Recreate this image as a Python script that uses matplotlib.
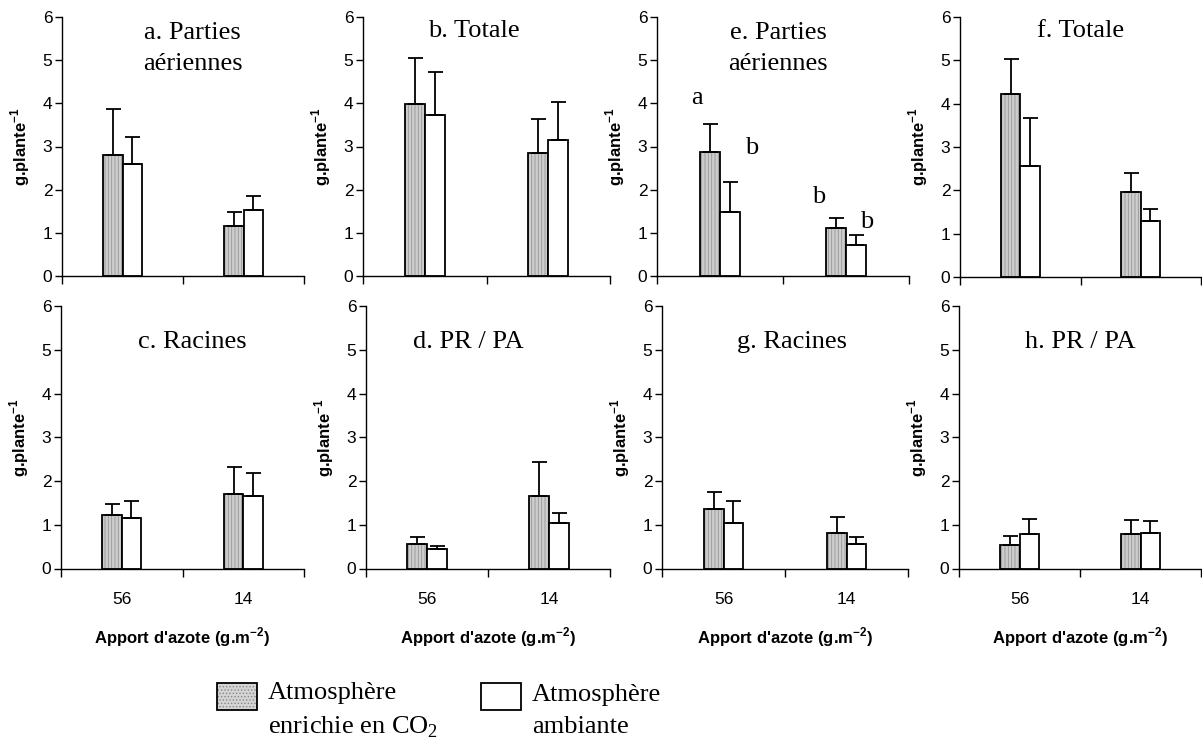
import numpy as np
import matplotlib.pyplot as plt
from matplotlib.patches import Patch, Rectangle
from matplotlib.legend_handler import HandlerPatch

plt.rcParams['font.family'] = ['Liberation Sans', 'DejaVu Sans']
plt.rcParams['mathtext.fontset'] = 'custom'
plt.rcParams['mathtext.rm'] = 'Liberation Serif'
plt.rcParams['mathtext.bf'] = 'Liberation Sans:bold'
plt.rcParams['hatch.linewidth'] = 0.6

# doses d'azote (g.m-2)
doses = ['56', '14']

# panneaux dans l'ordre a, b, c, d, e, f, g, h
titres = ['a. Parties\naériennes', 'b. Totale', 'c. Racines', 'd. PR / PA',
          'e. Parties\naériennes', 'f. Totale', 'g. Racines', 'h. PR / PA']

# moyennes et erreurs : [56, 14] pour chaque panneau
co2_moy = [[2.80, 1.16], [3.99, 2.86], [1.22, 1.70], [0.55, 1.65],
           [2.87, 1.12], [4.22, 1.96], [1.36, 0.82], [0.53, 0.79]]
co2_err = [[1.07, 0.33], [1.06, 0.78], [0.26, 0.61], [0.17, 0.79],
           [0.65, 0.22], [0.80, 0.43], [0.40, 0.36], [0.22, 0.32]]
amb_moy = [[2.59, 1.53], [3.74, 3.16], [1.15, 1.65], [0.44, 1.04],
           [1.49, 0.72], [2.57, 1.30], [1.04, 0.57], [0.79, 0.82]]
amb_err = [[0.63, 0.32], [0.99, 0.87], [0.40, 0.54], [0.07, 0.22],
           [0.69, 0.22], [1.11, 0.28], [0.51, 0.14], [0.35, 0.26]]

# lettres de significativite du panneau e
lettres_e = ['a', 'b', 'b', 'b']

W, H = 1202, 742
fig = plt.figure(figsize=(W / 100, H / 100), dpi=100)

# cadres des axes en pixels : gauche, haut, droite, bas
cadres = [(62, 17, 304, 276), (363, 17, 610, 276), (61, 306, 304, 568.5), (366, 306, 610, 568.5),
          (657, 17, 909, 276), (960, 17, 1201, 277), (662, 306, 908, 568.5), (959, 306, 1201, 568.5)]
pos_titre = [(0.54, 0.796), (0.45, 0.923), (0.54, 0.840), (0.42, 0.840),
             (0.48, 0.796), (0.50, 0.923), (0.53, 0.840), (0.50, 0.840)]

w = 0.16
x = np.arange(len(doses))
serif = 'Liberation Serif'

for i in range(8):
    l, t, r, b = cadres[i]
    ax = fig.add_axes([l / W, 1 - b / H, (r - l) / W, (b - t) / H])
    bas = i in (2, 3, 6, 7)

    ax.bar(x - w / 2, co2_moy[i], w, color='#cdcdcd', hatch='|||||', edgecolor='#969696', linewidth=0)
    ax.bar(x - w / 2, co2_moy[i], w, fill=False, edgecolor='black', linewidth=1.3,
           yerr=[np.zeros(2), co2_err[i]], capsize=5.4,
           error_kw=dict(elinewidth=1.3, capthick=1.3, ecolor='black'))
    ax.bar(x + w / 2, amb_moy[i], w, color='white', edgecolor='black', linewidth=1.3,
           yerr=[np.zeros(2), amb_err[i]], capsize=5.4,
           error_kw=dict(elinewidth=1.3, capthick=1.3, ecolor='black'))

    ax.set_xlim(-0.5, 1.5)
    ax.set_ylim(0, 6)
    ax.set_yticks(range(7))
    ax.set_xticks([-0.5, 0.5, 1.5])
    ax.set_xticklabels([])
    ax.set_xticks(x, minor=True)
    if bas:
        ax.set_xticklabels(doses, minor=True)
        ax.set_xlabel("Apport d'azote (g.m$^{\\mathbf{-2}}$)", fontsize=12, fontweight='bold')
        ax.xaxis.set_label_coords(0.5, -0.215)
    ax.tick_params(axis='x', which='major', direction='out', length=6, width=1)
    ax.tick_params(axis='x', which='minor', length=0, pad=17, labelsize=12.5)
    ax.tick_params(axis='y', direction='out', length=5, width=1, labelsize=12.5, pad=2)
    for s in ['top', 'right']:
        ax.spines[s].set_visible(False)
    for s in ['left', 'bottom']:
        ax.spines[s].set_linewidth(1)

    ax.set_ylabel('g.plante$^{\\mathbf{-1}}$', fontsize=12, fontweight='bold')
    ax.yaxis.set_label_coords(-30 / (r - l), 0.5)

    tx, ty = pos_titre[i]
    ax.text(tx, ty, titres[i], transform=ax.transAxes, ha='center', va='baseline',
            fontsize=19, family=serif, linespacing=1.5, multialignment='center')

    if i == 4:
        hauts = [co2_moy[i][0] + co2_err[i][0], amb_moy[i][0] + amb_err[i][0],
                 co2_moy[i][1] + co2_err[i][1], amb_moy[i][1] + amb_err[i][1]]
        xs = [x[0] - w / 2, x[0] + w / 2, x[1] - w / 2, x[1] + w / 2]
        decal = [(-13, 26), (22, 34), (-17, 21), (11, 13)]
        for k in range(4):
            ax.annotate(lettres_e[k], (xs[k], hauts[k]), xytext=decal[k], textcoords='offset pixels',
                        ha='center', va='center', fontsize=19, family=serif)


def rect_haut(legend, orig_handle, xdescent, ydescent, width, height, fontsize):
    # carre de legende aligne sur la premiere ligne du texte
    return Rectangle((-xdescent, -ydescent + 10), width, height)


h1 = (Patch(facecolor='#d4d4d4', edgecolor='#858585', hatch='.....', linewidth=0),
      Patch(fill=False, edgecolor='black', linewidth=1.3))
h2 = Patch(facecolor='white', edgecolor='black', linewidth=1.3)
leg = fig.legend([h1, h2], ['Atmosphère\nenrichie en CO$_2$', 'Atmosphère\nambiante'],
                 loc='upper left', bbox_to_anchor=(217 / W, 1 - 682 / H), ncol=2, frameon=False,
                 prop={'family': serif, 'size': 19}, handlelength=1.5, handleheight=1.2,
                 handletextpad=0.42, columnspacing=1.65, borderpad=0, borderaxespad=0,
                 handler_map={Patch: HandlerPatch(patch_func=rect_haut)})
for txt in leg.get_texts():
    txt.set_linespacing(1.55)

fig.savefig('out.png', dpi=100)
